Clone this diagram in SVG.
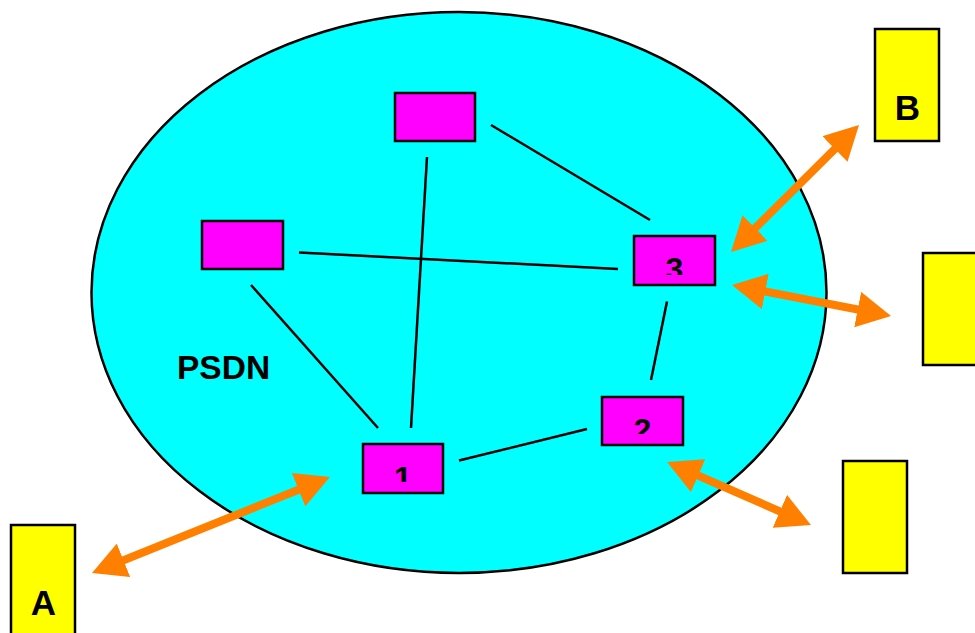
<svg xmlns="http://www.w3.org/2000/svg" width="975" height="633" viewBox="0 0 975 633">
<style>
.cloud{fill:#00FFFF;stroke:#000;stroke-width:2.5}
.router{fill:#FF00FF;stroke:#000;stroke-width:2.5}
.host{fill:#FFFF00;stroke:#000;stroke-width:2.5}
.link{stroke:#000;stroke-width:2.5;fill:none}
.access{stroke:#FF8000;stroke-width:8;fill:none}
.lbl{font-family:"Liberation Sans",Arial,sans-serif;font-weight:bold;fill:#000}
</style>
<defs>
<marker id="ah" viewBox="0 0 34 36" refX="4" refY="18" markerWidth="34" markerHeight="36" markerUnits="userSpaceOnUse" orient="auto-start-reverse">
<path d="M0,0 L34,18 L0,36 z" fill="#FF8000"/>
</marker>
<clipPath id="c1"><rect x="363" y="444" width="80" height="38"/></clipPath>
<clipPath id="c2"><rect x="602" y="397" width="81" height="37"/></clipPath>
<clipPath id="c3"><rect x="634" y="236" width="81" height="39"/></clipPath>
</defs>
<g id="psdn">
<ellipse class="cloud" cx="459" cy="292.5" rx="367.5" ry="280.5"/>
<text class="lbl" x="177" y="378.5" font-size="33.5">PSDN</text>
</g>
<g id="connectors">
<line class="link" x1="491" y1="125" x2="650" y2="220"/>
<line class="link" x1="427" y1="157" x2="411" y2="428"/>
<line class="link" x1="299" y1="252.5" x2="618" y2="269"/>
<line class="link" x1="251" y1="285" x2="378" y2="428"/>
<line class="link" x1="459" y1="460.5" x2="587" y2="429"/>
<line class="link" x1="667" y1="301.5" x2="651" y2="380"/>
<line class="access" x1="119.8" y1="561.8" x2="302.2" y2="488.2" marker-start="url(#ah)" marker-end="url(#ah)"/>
<line class="access" x1="752.3" y1="230.9" x2="837.7" y2="146.1" marker-start="url(#ah)" marker-end="url(#ah)"/>
<line class="access" x1="761.4" y1="290.7" x2="861.6" y2="310.3" marker-start="url(#ah)" marker-end="url(#ah)"/>
<line class="access" x1="694.5" y1="474" x2="783.5" y2="513" marker-start="url(#ah)" marker-end="url(#ah)"/>
</g>
<g id="router-top"><rect class="router" x="395" y="93" width="80" height="48"/></g>
<g id="router-left"><rect class="router" x="202" y="221" width="81" height="48"/></g>
<g id="router-3"><rect class="router" x="634" y="236" width="81" height="49"/><text class="lbl" x="674.5" y="280" font-size="32" text-anchor="middle" clip-path="url(#c3)">3</text></g>
<g id="router-2"><rect class="router" x="602" y="397" width="81" height="48"/><text class="lbl" x="642.5" y="441" font-size="32" text-anchor="middle" clip-path="url(#c2)">2</text></g>
<g id="router-1"><rect class="router" x="363" y="444" width="80" height="49"/><text class="lbl" x="403" y="489" font-size="32" text-anchor="middle" clip-path="url(#c1)">1</text></g>
<g id="host-A"><rect class="host" x="11" y="525" width="64" height="115"/><text class="lbl" x="43.5" y="615" font-size="35" text-anchor="middle">A</text></g>
<g id="host-B"><rect class="host" x="875" y="29" width="64" height="112"/><text class="lbl" x="907.5" y="119.5" font-size="35" text-anchor="middle">B</text></g>
<g id="host-right"><rect class="host" x="923" y="253" width="64" height="112"/></g>
<g id="host-bottom-right"><rect class="host" x="843" y="461" width="64" height="112"/></g>
</svg>
